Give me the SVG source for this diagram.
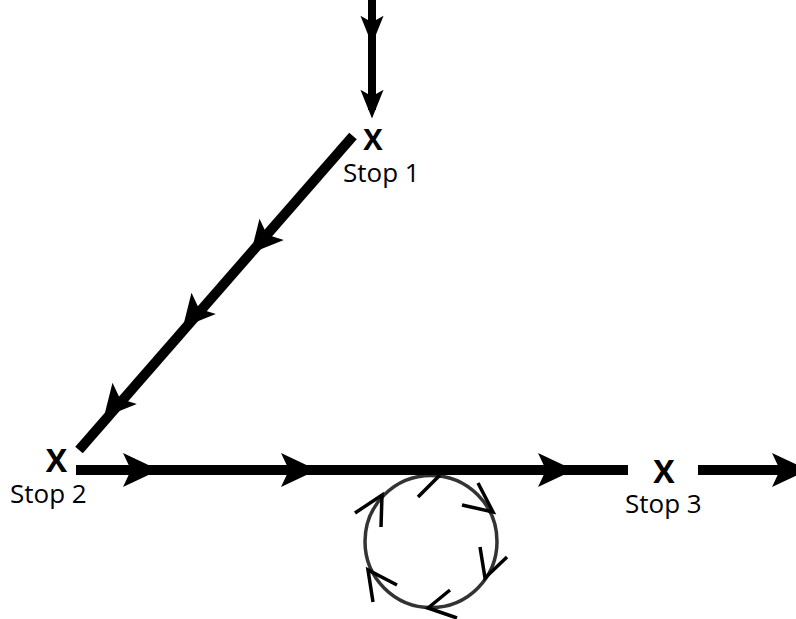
<svg xmlns="http://www.w3.org/2000/svg" xmlns:xlink="http://www.w3.org/1999/xlink" width="796" height="619" viewBox="0 0 796 619">
<style>
.ln{stroke:#000;fill:none;stroke-linecap:butt}
.hd{fill:#000}
.chev{stroke:#000;stroke-width:3.5;fill:none;stroke-linecap:butt}
.x{font-family:"Open Sans","Noto Sans",sans-serif;font-weight:bold;font-size:32px;fill:#000;text-anchor:middle}
.lbl{font-family:"Open Sans","Noto Sans",sans-serif;font-size:26px;fill:#000}
</style>
<defs>
<path id="h" d="M2,0 L-34,-17 L-26,0 L-34,17 Z"/>
</defs>
<rect width="796" height="619" fill="#fff"/>
<g id="loop">
<circle cx="431" cy="541.5" r="66" fill="none" stroke="#333" stroke-width="3.5"/>
<polyline class="chev" points="418,497 440,475"/>
<polyline class="chev" points="462,505 493,512 478,483"/>
<polyline class="chev" points="480,547 485,578 507,557"/>
<polyline class="chev" points="450,590 428,608 457,618"/>
<polyline class="chev" points="397,585 368,570 373,602"/>
<polyline class="chev" points="355,513 382,495 381,527"/>
</g>
<g id="connectors">
<line class="ln" x1="372" y1="0" x2="372" y2="110" stroke-width="8"/>
<use href="#h" class="hd" transform="translate(372,43) rotate(90) scale(0.8,0.68)"/>
<use href="#h" class="hd" transform="translate(372,117) rotate(90) scale(0.8,0.68)"/>
<line class="ln" x1="353" y1="136" x2="79" y2="450" stroke-width="10"/>
<use href="#h" class="hd" transform="translate(252,252) rotate(131.1) scale(0.88,0.95)"/>
<use href="#h" class="hd" transform="translate(184,326) rotate(131.1) scale(0.88,0.95)"/>
<use href="#h" class="hd" transform="translate(105,416) rotate(131.1) scale(0.88,0.95)"/>
<line class="ln" x1="76" y1="470" x2="628" y2="470" stroke-width="10"/>
<use href="#h" class="hd" transform="translate(157,470)"/>
<use href="#h" class="hd" transform="translate(315,470)"/>
<use href="#h" class="hd" transform="translate(572,470)"/>
<line class="ln" x1="698" y1="470" x2="790" y2="470" stroke-width="10"/>
<use href="#h" class="hd" transform="translate(806,470)"/>
</g>
<g id="stop1">
<text class="x" x="373" y="150" style="font-size:29px">X</text>
<text class="lbl" x="343" y="182">Stop 1</text>
</g>
<g id="stop2">
<text class="x" x="56.5" y="472">X</text>
<text class="lbl" x="10" y="503">Stop 2</text>
</g>
<g id="stop3">
<text class="x" x="664" y="483">X</text>
<text class="lbl" x="625" y="513">Stop 3</text>
</g>
</svg>
